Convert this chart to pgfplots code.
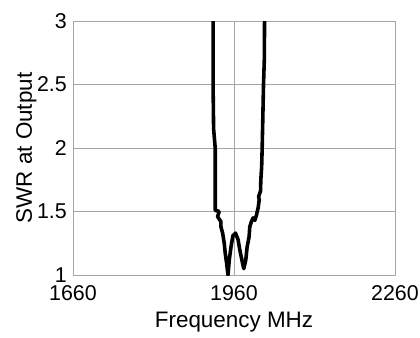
\documentclass[border=0pt]{standalone}
\usepackage{fontspec}
\setmainfont{Liberation Sans}
\usepackage{pgfplots}
\pgfplotsset{compat=1.18}
\begin{document}
\begin{tikzpicture}
\begin{axis}[
  name=ax,
  scale only axis,
  width=322bp, height=254bp,
  xmin=1660, xmax=2260, ymin=1, ymax=3,
  xtick={1660,1960,2260},
  ytick={1,1.5,2,2.5,3},
  yticklabels={1,1.5,2,2.5,3},
  xticklabels={1660,1960,2260},
  grid=major,
  major grid style={gray!70, line width=0.6pt},
  axis line style={gray!70, line width=0.6pt},
  major tick length=0pt,
  tick style={draw=none},
  ticklabel style={font=\fontsize{21.5}{24}\selectfont},
  xticklabel style={yshift=-10.5pt, inner sep=0pt},
  yticklabel style={xshift=-6pt, inner sep=0pt},
  label style={font=\fontsize{22.5}{26}\selectfont},
  xlabel={Frequency MHz},
  ylabel={SWR at Output},
  xlabel style={yshift=-8pt},
  ylabel style={yshift=-3pt},
  clip=true,
]
\addplot[black, line width=3.6pt, line join=round] coordinates {
(1921,3.05) (1921,2.5) (1922,2.15) (1925,2.0) (1925,1.51)
(1932.4,1.50) (1929.4,1.46) (1935.6,1.42) (1935.6,1.38) (1938.8,1.33)
(1941.8,1.25) (1943.7,1.17) (1946.3,1.09) (1948.2,1.02) (1948.8,1.0)
(1951.2,1.12) (1954.4,1.22) (1958,1.31) (1962.8,1.33) (1967.5,1.28)
(1970.7,1.20) (1975.6,1.10) (1978.2,1.05) (1982,1.12) (1984.4,1.22)
(1988.1,1.30) (1989.4,1.38) (1992.4,1.42) (1995.6,1.45) (1998.8,1.43)
(2001.8,1.47) (2005,1.53) (2006.9,1.59) (2006,1.62) (2009.4,1.66)
(2010,1.75) (2011.5,1.85) (2012.5,2.0) (2014,2.3) (2015,2.5)
(2016.5,2.7) (2017,3.05)
};
\end{axis}
\useasboundingbox ([shift={(-73bp,-62bp)}]ax.south west) rectangle ([shift={(25bp,21bp)}]ax.north east);
\end{tikzpicture}
\end{document}
